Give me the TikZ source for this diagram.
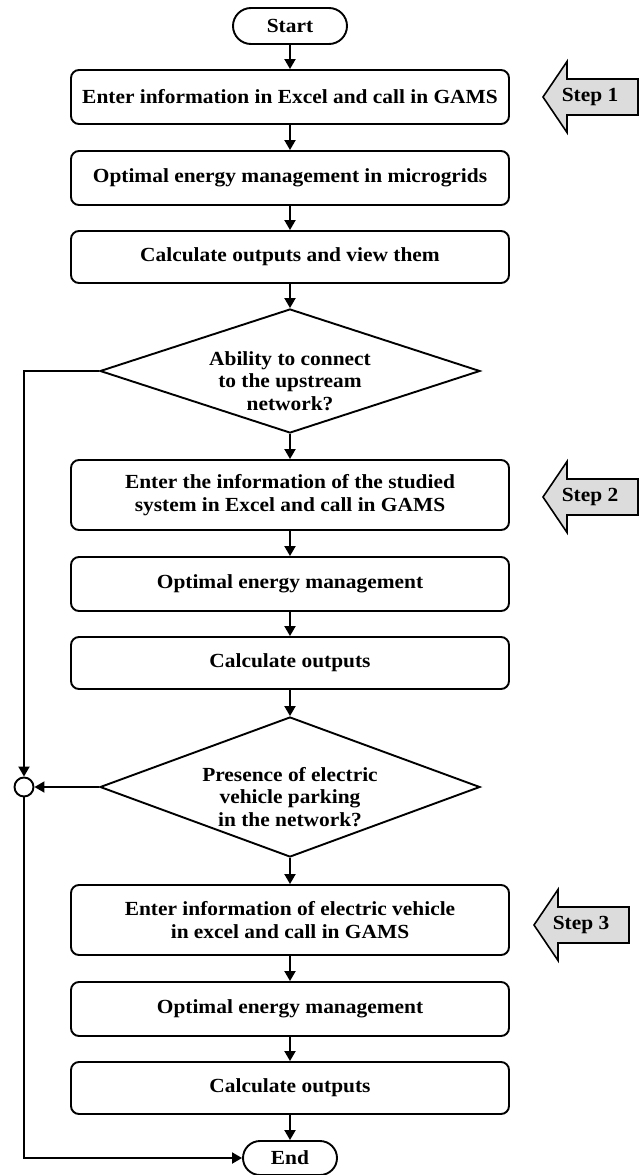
\documentclass[tikz,border=0pt]{standalone}
\usepackage{fontspec}
\setmainfont{Liberation Serif}[FakeStretch=1.07]
\usetikzlibrary{arrows.meta,shapes.geometric,shapes.misc}
\definecolor{stepgray}{HTML}{DCDCDC}
\begin{document}
\begin{tikzpicture}[x=1pt,y=-1pt,
  font=\fontsize{20}{22.5}\selectfont\bfseries,
  every node/.style={inner sep=0pt},
  proc/.style={draw, line width=1.9pt, rounded corners=8pt, minimum width=438pt, align=center},
  term/.style={draw, line width=1.9pt, rounded rectangle, minimum height=36pt},
  dec/.style={draw, line width=1.9pt, diamond, minimum width=380pt},
  arr/.style={line width=1.9pt, -{Triangle[length=10pt,width=11pt]}},
  pics/steparrow/.style={code={
    \draw[fill=stepgray, line width=1.6pt] (0,0) -- (24,-35.5) -- (24,-18) -- (95,-18) -- (95,18) -- (24,18) -- (24,35.5) -- cycle;
    \node at (47,0) {#1};}}
]
\useasboundingbox (0,0) rectangle (642,1175);
\node[term, minimum width=114pt] (start) at (290,26) {Start};
\node[proc, minimum height=54pt] (b1) at (290,97) {Enter information in Excel and call in GAMS};
\node[proc, minimum height=54pt] (b2) at (290,178) {Optimal energy management in microgrids};
\node[proc, minimum height=52pt] (b3) at (290,257) {Calculate outputs and view them};
\node[dec, minimum height=124pt] (d1) at (290,371) {};
\node[align=center] (t1) at (290,381) {Ability to connect\\to the upstream\\network?};
\node[proc, minimum height=70pt] (b4) at (290,495) {Enter the information of the studied\\system in Excel and call in GAMS};
\node[proc, minimum height=54pt] (b5) at (290,584) {Optimal energy management};
\node[proc, minimum height=52pt] (b6) at (290,663) {Calculate outputs};
\node[dec, minimum height=140pt] (d2) at (290,787) {};
\node[align=center] (t2) at (290,797) {Presence of electric\\vehicle parking\\in the network?};
\node[proc, minimum height=70pt] (b7) at (290,920) {Enter information of electric vehicle\\in excel and call in GAMS};
\node[proc, minimum height=54pt] (b8) at (290,1009) {Optimal energy management};
\node[proc, minimum height=52pt] (b9) at (290,1088) {Calculate outputs};
\node[term, minimum width=94pt, minimum height=34pt] (endn) at (290,1158) {End};
\node[draw, circle, line width=1.9pt, minimum size=19pt] (j) at (24,787) {};

\draw[arr] (start) -- (b1);
\draw[arr] (b1) -- (b2);
\draw[arr] (b2) -- (b3);
\draw[arr] (b3) -- (d1.north);
\draw[arr] (d1.south) -- (b4);
\draw[arr] (b4) -- (b5);
\draw[arr] (b5) -- (b6);
\draw[arr] (b6) -- (d2.north);
\draw[arr] (d2.south) -- (b7);
\draw[arr] (b7) -- (b8);
\draw[arr] (b8) -- (b9);
\draw[arr] (b9) -- (endn);
\draw[arr] (d1.west) -| (j.north);
\draw[arr] (d2.west) -- (j.east);
\draw[arr] (j.south) |- (endn.west);

\pic at (543,97) {steparrow={Step 1}};
\pic at (543,497) {steparrow={Step 2}};
\pic at (534,925) {steparrow={Step 3}};
\end{tikzpicture}
\end{document}
